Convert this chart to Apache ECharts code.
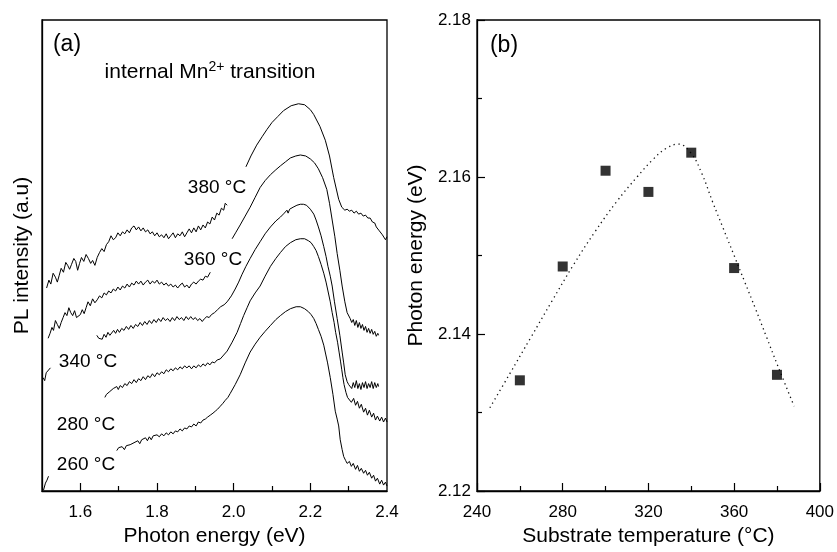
<!DOCTYPE html>
<html>
<head>
<meta charset="utf-8">
<script src="https://cdn.jsdelivr.net/npm/echarts@6/dist/echarts.min.js"></script>
<style>
html,body{margin:0;padding:0;background:#fff;}
#chart{width:837px;height:552px;}
</style>
</head>
<body>
<div id="chart"></div>
<script>
// ---------------- Panel (a): PL spectra, [photon energy (eV), intensity (a.u.)] ----------------
const spec380 = [
  [[1.512,206],[1.518,214],[1.523,210],[1.529,221],[1.535,217],[1.540,212],[1.545,219],[1.550,226],[1.556,222],[1.562,232],[1.567,229],[1.572,225],[1.577,230],[1.583,236],[1.588,233],[1.593,224],[1.598,231],[1.603,237],[1.609,233],[1.615,240],[1.621,236],[1.627,231],[1.632,234],[1.638,229],[1.644,237],[1.650,242],[1.656,246],[1.662,243],[1.668,250],[1.674,253],[1.680,259],[1.686,255],[1.692,257],[1.698,262],[1.704,259],[1.710,263],[1.716,261],[1.722,265],[1.728,262],[1.734,267],[1.740,269],[1.746,265],[1.752,268],[1.758,264],[1.764,267],[1.770,263],[1.776,265],[1.782,261],[1.788,263],[1.794,259],[1.800,262],[1.806,258],[1.812,260],[1.818,257],[1.824,261],[1.830,256],[1.836,259],[1.842,262],[1.848,257],[1.854,261],[1.860,259],[1.866,263],[1.872,258],[1.878,262],[1.884,266],[1.890,262],[1.896,267],[1.902,263],[1.908,269],[1.914,265],[1.920,270],[1.926,267],[1.932,273],[1.938,271],[1.944,278],[1.950,275],[1.956,282],[1.962,280],[1.968,287],[1.974,285],[1.978,292],[1.983,290]],
  [[2.032,329],[2.045,340],[2.060,351],[2.075,360],[2.087,367],[2.100,374],[2.115,380],[2.130,386],[2.150,391],[2.169,393],[2.185,392],[2.200,387],[2.209,382],[2.225,370],[2.239,356],[2.250,340],[2.261,318],[2.274,296],[2.282,288],[2.290,285],[2.296,286],[2.302,284],[2.308,285],[2.314,282],[2.320,284],[2.326,281],[2.332,282],[2.338,279],[2.344,280],[2.350,277],[2.356,277],[2.362,273],[2.368,272],[2.372,268],[2.376,270],[2.380,264],[2.384,266],[2.388,260],[2.392,262],[2.396,255],[2.400,258]]
];
const spec360 = [
  [[1.516,155],[1.521,160],[1.526,166],[1.530,163],[1.535,173],[1.540,169],[1.545,165],[1.550,171],[1.555,176],[1.560,181],[1.565,178],[1.570,186],[1.575,181],[1.580,178],[1.585,183],[1.590,176],[1.595,174],[1.600,179],[1.605,184],[1.610,180],[1.615,186],[1.620,192],[1.626,188],[1.632,195],[1.638,191],[1.644,194],[1.650,198],[1.656,196],[1.662,201],[1.668,199],[1.674,203],[1.680,201],[1.686,205],[1.692,203],[1.698,207],[1.704,204],[1.710,208],[1.716,206],[1.722,210],[1.728,207],[1.734,211],[1.740,209],[1.746,213],[1.752,210],[1.758,213],[1.764,209],[1.770,212],[1.776,214],[1.782,210],[1.788,213],[1.794,211],[1.800,214],[1.806,210],[1.812,212],[1.818,209],[1.824,211],[1.830,208],[1.836,210],[1.842,207],[1.848,209],[1.854,206],[1.860,209],[1.866,211],[1.872,207],[1.878,209],[1.884,206],[1.890,210],[1.896,212],[1.902,210],[1.908,213],[1.914,215],[1.920,214],[1.926,218],[1.932,217],[1.939,222]],
  [[1.996,256],[2.005,262],[2.017,270],[2.030,279],[2.043,288],[2.056,298],[2.069,308],[2.082,315],[2.096,321],[2.110,326],[2.122,330],[2.135,334],[2.148,338],[2.162,340],[2.174,341],[2.188,340],[2.200,337],[2.211,333],[2.221,327],[2.232,318],[2.243,306],[2.250,292],[2.257,275],[2.264,258],[2.270,241],[2.277,224],[2.283,208],[2.290,192],[2.296,181],[2.304,175],[2.308,171],[2.312,174],[2.316,168],[2.320,173],[2.324,166],[2.328,171],[2.332,165],[2.336,169],[2.340,163],[2.344,167],[2.348,161],[2.352,165],[2.356,160],[2.360,164],[2.364,159],[2.368,162],[2.372,157],[2.376,160],[2.378,158]]
];
const spec340 = [
  [[1.643,158],[1.648,155],[1.652,157],[1.657,154],[1.662,159],[1.667,156],[1.672,161],[1.677,158],[1.682,160],[1.687,163],[1.692,160],[1.697,164],[1.702,161],[1.708,165],[1.714,163],[1.720,167],[1.726,164],[1.732,168],[1.738,165],[1.744,169],[1.750,167],[1.756,171],[1.762,168],[1.768,172],[1.774,169],[1.780,173],[1.786,170],[1.792,174],[1.798,171],[1.804,175],[1.810,172],[1.816,176],[1.822,173],[1.828,175],[1.834,172],[1.840,176],[1.846,173],[1.852,177],[1.858,174],[1.864,176],[1.870,173],[1.876,177],[1.882,174],[1.888,177],[1.894,174],[1.900,176],[1.906,173],[1.912,175],[1.918,172],[1.924,175],[1.930,177],[1.936,176],[1.942,179],[1.950,181],[1.958,184],[1.966,187],[1.975,189],[1.983,192],[1.994,198],[2.004,205],[2.013,212],[2.022,220],[2.032,228],[2.043,236],[2.056,245],[2.069,253],[2.082,261],[2.096,268],[2.110,274],[2.122,278],[2.132,282],[2.139,285],[2.142,282],[2.146,286],[2.155,288],[2.165,290],[2.174,291],[2.182,291],[2.190,290],[2.200,286],[2.209,281],[2.215,275],[2.221,268],[2.228,259],[2.235,248],[2.241,238],[2.246,228],[2.252,218],[2.257,208],[2.263,192],[2.270,175],[2.277,158],[2.283,141],[2.287,130],[2.291,118],[2.296,111],[2.300,108],[2.304,109],[2.308,104],[2.312,110],[2.316,105],[2.320,112],[2.324,104],[2.328,109],[2.332,103],[2.336,110],[2.340,105],[2.344,111],[2.348,104],[2.352,109],[2.356,105],[2.360,111],[2.364,104],[2.368,110],[2.372,105],[2.376,109],[2.378,106]]
];
const spec280 = [
  [[1.503,115],[1.507,112],[1.511,120],[1.516,118],[1.522,125]],
  [[1.664,95],[1.668,98],[1.673,96],[1.677,101],[1.681,99],[1.686,104],[1.690,102],[1.695,106],[1.699,103],[1.704,107],[1.710,105],[1.716,109],[1.722,107],[1.728,111],[1.734,109],[1.740,113],[1.746,110],[1.752,114],[1.758,112],[1.764,116],[1.770,113],[1.776,117],[1.782,115],[1.788,119],[1.794,116],[1.800,120],[1.806,118],[1.812,121],[1.818,119],[1.824,123],[1.830,121],[1.836,124],[1.842,122],[1.848,125],[1.854,123],[1.860,126],[1.866,124],[1.872,127],[1.878,125],[1.884,127],[1.890,124],[1.896,127],[1.902,125],[1.908,128],[1.914,126],[1.920,129],[1.926,127],[1.932,130],[1.938,128],[1.944,131],[1.950,130],[1.957,133],[1.965,134],[1.974,138],[1.983,142],[1.996,151],[2.009,161],[2.018,170],[2.026,178],[2.035,186],[2.043,193],[2.056,201],[2.069,208],[2.082,218],[2.096,228],[2.110,236],[2.122,242],[2.135,248],[2.148,252],[2.162,255],[2.174,256],[2.185,256],[2.195,254],[2.202,252],[2.209,248],[2.215,244],[2.221,238],[2.228,230],[2.235,221],[2.241,212],[2.246,203],[2.252,192],[2.257,181],[2.262,171],[2.266,161],[2.271,151],[2.275,141],[2.279,131],[2.282,123],[2.285,115],[2.288,108],[2.293,100],[2.297,95],[2.302,97],[2.307,90],[2.313,94],[2.318,87],[2.323,91],[2.328,84],[2.333,88],[2.339,80],[2.344,84],[2.349,77],[2.354,82],[2.360,75],[2.365,79],[2.370,72],[2.375,76],[2.381,71],[2.386,75],[2.391,70],[2.396,74],[2.400,70]]
];
const spec260 = [
  [[1.504,1],[1.509,8],[1.513,11],[1.517,15]],
  [[1.695,41],[1.700,44],[1.704,42],[1.709,45],[1.715,42],[1.720,46],[1.725,44],[1.730,47],[1.735,45],[1.740,49],[1.745,47],[1.750,51],[1.755,48],[1.760,52],[1.765,50],[1.770,54],[1.775,51],[1.780,55],[1.785,52],[1.790,56],[1.795,54],[1.800,57],[1.806,55],[1.812,58],[1.818,56],[1.824,59],[1.830,57],[1.836,60],[1.842,58],[1.848,61],[1.854,60],[1.860,63],[1.866,61],[1.872,64],[1.878,63],[1.884,66],[1.890,65],[1.896,68],[1.902,66],[1.908,70],[1.914,69],[1.920,72],[1.926,73],[1.932,75],[1.939,77],[1.946,79],[1.952,81],[1.958,83],[1.965,86],[1.972,89],[1.978,92],[1.985,95],[1.991,99],[2.004,108],[2.017,118],[2.030,130],[2.043,141],[2.056,149],[2.069,156],[2.082,162],[2.096,168],[2.110,174],[2.122,178],[2.135,182],[2.148,185],[2.163,187],[2.174,187],[2.185,185],[2.195,182],[2.202,179],[2.209,175],[2.215,170],[2.221,164],[2.228,157],[2.235,148],[2.240,139],[2.245,130],[2.252,115],[2.259,98],[2.265,81],[2.270,73],[2.274,66],[2.278,52],[2.283,42],[2.287,35],[2.292,31],[2.296,28],[2.302,30],[2.307,25],[2.312,28],[2.318,22],[2.323,26],[2.328,20],[2.333,23],[2.339,18],[2.344,21],[2.349,16],[2.354,19],[2.360,13],[2.365,16],[2.370,10],[2.375,13],[2.381,7],[2.386,11],[2.391,6],[2.396,9],[2.400,5]]
];
const spectraLabels = ['380 °C','360 °C','340 °C','280 °C','260 °C'];
const energyTicks = [1.6, 1.8, 2.0, 2.2, 2.4];
const energyMinorTicks = [1.7, 1.9, 2.1, 2.3];

// ---------------- Panel (b): peak energy vs substrate temperature ----------------
const substrateTemp = [260, 280, 300, 320, 340, 360, 380];
const peakEnergy = [2.1341, 2.1486, 2.1608, 2.1581, 2.1631, 2.1484, 2.1348];
const fitTemp = [246, 255, 265, 275, 285, 295, 305, 315, 322, 328, 334, 340, 345, 350, 355, 360, 365, 370, 375, 380, 388];
const fitEnergy = [2.1306, 2.1348, 2.1395, 2.1442, 2.1488, 2.1530, 2.1568, 2.1601, 2.1622, 2.1636, 2.1642, 2.1630, 2.1604, 2.1568, 2.1534, 2.1500, 2.1466, 2.1432, 2.1397, 2.1362, 2.1308];

const FONT = '"Liberation Sans", Arial, Helvetica, sans-serif';
const chart = echarts.init(document.getElementById('chart'), null, {renderer: 'canvas'});

const series = [];
[spec380, spec360, spec340, spec280, spec260].forEach(function (spec) {
  spec.forEach(function (seg) {
    series.push({
      type: 'line', xAxisIndex: 0, yAxisIndex: 0, data: seg,
      showSymbol: false, symbol: 'none', smooth: false,
      lineStyle: {color: '#000', width: 1}, silent: true, z: 3
    });
  });
});
series.push({
  type: 'line', xAxisIndex: 2, yAxisIndex: 1,
  data: fitTemp.map(function (t, i) { return [t, fitEnergy[i]]; }),
  showSymbol: false, symbol: 'none', smooth: 0.4,
  lineStyle: {color: '#111', width: 1.3, type: [1.3, 3.6]}, z: 2
});
series.push({
  type: 'scatter', xAxisIndex: 2, yAxisIndex: 1,
  data: substrateTemp.map(function (t, i) { return [t, peakEnergy[i]]; }),
  symbol: 'rect', symbolSize: 10, itemStyle: {color: '#000'}, z: 4
});

const axisLineStyle = {show: true, onZero: false, lineStyle: {color: '#000', width: 1.3}};
const nameStyle = {fontFamily: FONT, fontSize: 21, color: '#000'};
const labelStyle = {fontFamily: FONT, fontSize: 17, color: '#000'};

const labelPos = [[217, 188], [213, 260], [88, 362], [86, 425], [86, 465]];
const graphics = spectraLabels.map(function (t, i) {
  return {type: 'text', x: labelPos[i][0], y: labelPos[i][1], z: 10,
    style: {text: t, font: '19px ' + FONT, fill: '#000', align: 'center', verticalAlign: 'middle'}};
});
graphics.push({type: 'text', x: 67, y: 45, z: 10,
  style: {text: '(a)', font: '23px ' + FONT, fill: '#000', align: 'center', verticalAlign: 'middle'}});
graphics.push({type: 'text', x: 504, y: 46, z: 10,
  style: {text: '(b)', font: '23px ' + FONT, fill: '#000', align: 'center', verticalAlign: 'middle'}});
graphics.push({type: 'text', x: 210, y: 72, z: 10,
  style: {text: 'internal Mn{sup|2+} transition', font: '21px ' + FONT, fill: '#000',
    align: 'center', verticalAlign: 'middle', lineHeight: 24,
    rich: {sup: {fontSize: 14, fontFamily: FONT, verticalAlign: 'top', lineHeight: 24, fill: '#000', padding: [0, 0, 8, 0]}}}});

const option = {
  backgroundColor: '#fff',
  animation: false,
  grid: [
    {left: 42, top: 20, width: 345, height: 478, show: true, borderColor: '#000', borderWidth: 1.3, backgroundColor: 'transparent'},
    {left: 477, top: 20, width: 345, height: 478, show: true, borderColor: '#000', borderWidth: 1.3, backgroundColor: 'transparent'}
  ],
  xAxis: [
    {gridIndex: 0, type: 'value', min: 1.5, max: 2.4, position: 'bottom',
      axisLine: axisLineStyle,
      axisTick: {show: true, inside: true, length: 8, customValues: [1.6, 1.8, 2.0, 2.2], lineStyle: {color: '#000', width: 1.2}},
      axisLabel: Object.assign({customValues: energyTicks, margin: 13, formatter: function (v) { return v.toFixed(1); }}, labelStyle),
      splitLine: {show: false},
      name: 'Photon energy (eV)', nameLocation: 'middle', nameGap: 35, nameTextStyle: nameStyle},
    {gridIndex: 0, type: 'value', min: 1.5, max: 2.4, position: 'bottom',
      axisLine: {show: false},
      axisTick: {show: true, inside: true, length: 5, customValues: energyMinorTicks, lineStyle: {color: '#000', width: 1.2}},
      axisLabel: {show: false}, splitLine: {show: false}},
    {gridIndex: 1, type: 'value', min: 240, max: 400, interval: 40, position: 'bottom',
      axisLine: axisLineStyle,
      axisTick: {show: true, inside: true, length: 8, lineStyle: {color: '#000', width: 1.2}},
      minorTick: {show: true, splitNumber: 2, length: 5, lineStyle: {color: '#000', width: 1.2}},
      axisLabel: Object.assign({margin: 13}, labelStyle),
      splitLine: {show: false}, minorSplitLine: {show: false},
      name: 'Substrate temperature (°C)', nameLocation: 'middle', nameGap: 35, nameTextStyle: nameStyle}
  ],
  yAxis: [
    {gridIndex: 0, type: 'value', min: 0, max: 478,
      axisLine: axisLineStyle, axisTick: {show: false}, axisLabel: {show: false}, splitLine: {show: false},
      name: 'PL intensity (a.u)', nameLocation: 'middle', nameGap: 9, nameTextStyle: nameStyle},
    {gridIndex: 1, type: 'value', min: 2.12, max: 2.18, interval: 0.02,
      axisLine: axisLineStyle,
      axisTick: {show: true, inside: true, length: 8, lineStyle: {color: '#000', width: 1.2}},
      minorTick: {show: true, splitNumber: 2, length: 5, lineStyle: {color: '#000', width: 1.2}},
      axisLabel: Object.assign({margin: 6, formatter: function (v) { return v.toFixed(2); }}, labelStyle),
      splitLine: {show: false}, minorSplitLine: {show: false},
      name: 'Photon energy (eV)', nameLocation: 'middle', nameGap: 50, nameTextStyle: nameStyle}
  ],
  series: series,
  graphic: graphics
};
chart.setOption(option);
</script>
</body>
</html>
